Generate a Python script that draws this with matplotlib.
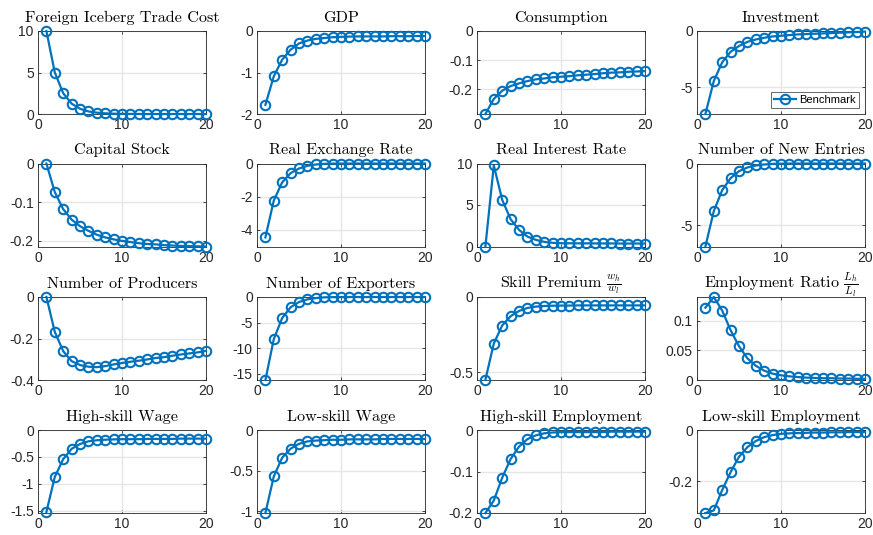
import matplotlib
matplotlib.use("Agg")
import matplotlib.pyplot as plt
from matplotlib.ticker import FuncFormatter

plt.rcParams["axes.unicode_minus"] = False
plt.rcParams["mathtext.fontset"] = "cm"

periods = list(range(1, 21))

titles = [
    "Foreign Iceberg Trade Cost", "GDP", "Consumption", "Investment",
    "Capital Stock", "Real Exchange Rate", "Real Interest Rate", "Number of New Entries",
    "Number of Producers", "Number of Exporters", r"Skill Premium $\frac{w_h}{w_l}$",
    r"Employment Ratio $\frac{L_h}{L_l}$",
    "High-skill Wage", "Low-skill Wage", "High-skill Employment", "Low-skill Employment",
]

trade_cost = [10.0, 5.0, 2.5, 1.25, 0.63, 0.31, 0.16, 0.08, 0.04, 0.02,
              0.01, 0.005, 0.0, 0.0, 0.0, 0.0, 0.0, 0.0, 0.0, 0.0]
gdp = [-1.78, -1.09, -0.69, -0.45, -0.30, -0.23, -0.19, -0.17, -0.15, -0.14,
       -0.135, -0.13, -0.13, -0.13, -0.13, -0.125, -0.125, -0.125, -0.12, -0.12]
consumption = [-0.285, -0.233, -0.205, -0.189, -0.180, -0.172, -0.166, -0.163, -0.159, -0.157,
               -0.155, -0.152, -0.150, -0.148, -0.145, -0.143, -0.142, -0.140, -0.139, -0.1375]
investment = [-7.35, -4.43, -2.77, -1.84, -1.33, -0.96, -0.75, -0.60, -0.48, -0.42,
              -0.36, -0.30, -0.27, -0.24, -0.21, -0.18, -0.15, -0.12, -0.09, -0.05]
capital = [0.0, -0.074, -0.118, -0.145, -0.162, -0.174, -0.184, -0.191, -0.196, -0.200,
           -0.203, -0.206, -0.208, -0.209, -0.211, -0.212, -0.213, -0.2135, -0.214, -0.2145]
rer = [-4.45, -2.23, -1.13, -0.58, -0.30, -0.14, -0.06, -0.02, -0.005, 0.0,
       0.0, 0.0, 0.0, 0.0, 0.0, 0.0, 0.0, 0.0, 0.0, 0.0]
real_rate = [0.0, 9.76, 5.62, 3.29, 2.0, 1.2, 0.80, 0.56, 0.44, 0.40,
             0.39, 0.38, 0.38, 0.37, 0.37, 0.37, 0.36, 0.36, 0.36, 0.36]
new_entries = [-6.7, -3.84, -2.15, -1.18, -0.62, -0.32, -0.16, -0.08, -0.03, -0.01,
               0.0, 0.0, 0.0, 0.0, 0.0, 0.0, 0.0, 0.0, 0.0, 0.0]
producers = [0.0, -0.168, -0.261, -0.309, -0.328, -0.336, -0.338, -0.333, -0.325, -0.318,
             -0.312, -0.307, -0.301, -0.294, -0.290, -0.283, -0.277, -0.272, -0.267, -0.259]
exporters = [-16.2, -8.2, -4.1, -2.0, -0.98, -0.46, -0.2, -0.07, -0.03, -0.01,
             0.0, 0.0, 0.0, 0.0, 0.0, 0.0, 0.0, 0.0, 0.0, 0.0]
skill_premium = [-0.551, -0.310, -0.190, -0.128, -0.093, -0.073, -0.064, -0.060, -0.058, -0.057,
                 -0.057, -0.056, -0.056, -0.056, -0.056, -0.056, -0.056, -0.056, -0.056, -0.056]
emp_ratio = [0.122, 0.140, 0.117, 0.084, 0.057, 0.0365, 0.024, 0.0157, 0.0107, 0.0079,
             0.0062, 0.005, 0.004, 0.0035, 0.003, 0.003, 0.0025, 0.0025, 0.002, 0.002]
high_wage = [-1.52, -0.87, -0.54, -0.35, -0.26, -0.21, -0.19, -0.18, -0.175, -0.17,
             -0.17, -0.17, -0.165, -0.165, -0.165, -0.165, -0.16, -0.16, -0.16, -0.16]
low_wage = [-1.02, -0.57, -0.34, -0.23, -0.17, -0.14, -0.13, -0.125, -0.12, -0.12,
            -0.115, -0.115, -0.115, -0.115, -0.11, -0.11, -0.11, -0.11, -0.11, -0.11]
high_emp = [-0.20, -0.17, -0.115, -0.07, -0.04, -0.022, -0.013, -0.008, -0.006, -0.005,
            -0.005, -0.005, -0.005, -0.005, -0.005, -0.004, -0.004, -0.004, -0.004, -0.004]
low_emp = [-0.325, -0.315, -0.235, -0.165, -0.105, -0.067, -0.043, -0.028, -0.020, -0.015,
           -0.013, -0.012, -0.011, -0.010, -0.010, -0.009, -0.009, -0.008, -0.008, -0.008]

series = [trade_cost, gdp, consumption, investment,
          capital, rer, real_rate, new_entries,
          producers, exporters, skill_premium, emp_ratio,
          high_wage, low_wage, high_emp, low_emp]

y_limits = [(0, 10), (-2, 0), (-0.285, 0), (-7.35, 0),
            (-0.2145, 0), (-5, 0), (0, 10), (-6.7, 0),
            (-0.4, 0), (-16.2, 0), (-0.553, 0), (0, 0.14),
            (-1.54, 0), (-1.02, 0), (-0.2, 0), (-0.325, 0)]

y_ticks = [[0, 5, 10], [-2, -1, 0], [-0.2, -0.1, 0], [-5, 0],
           [-0.2, -0.1, 0], [-4, -2, 0], [0, 5, 10], [-5, 0],
           [-0.4, -0.2, 0], [-15, -10, -5, 0], [-0.5, 0], [0, 0.05, 0.1],
           [-1.5, -1, -0.5, 0], [-1, -0.5, 0], [-0.2, -0.1, 0], [-0.2, 0]]

legend_label = "Benchmark"
line_color = "#0072BD"
axis_color = "#262626"

W, H = 873, 535
fig = plt.figure(figsize=(W / 100, H / 100), dpi=100)

col_left = [38, 257, 477, 697]
col_width = 168
row_top = [31, 163.5, 297, 430]
row_height = 83

fmt = FuncFormatter(lambda v, p: "%g" % round(v, 6))

for i, (title, vals) in enumerate(zip(titles, series)):
    r, c = divmod(i, 4)
    ax = fig.add_axes([col_left[c] / W, 1 - (row_top[r] + row_height) / H,
                       col_width / W, row_height / H])
    ax.plot(periods, vals, color=line_color, lw=1.6, marker="o", ms=6.8,
            mfc="none", mew=1.5, label=legend_label, clip_on=False, zorder=3)
    ax.set_xlim(0, 20)
    ax.set_ylim(*y_limits[i])
    ax.set_xticks([0, 10, 20])
    ax.set_yticks(y_ticks[i])
    ax.yaxis.set_major_formatter(fmt)
    ax.grid(True, color="#e6e6e6", lw=1.0)
    ax.set_axisbelow(True)
    for s in ax.spines.values():
        s.set_color(axis_color)
        s.set_linewidth(0.6)
    ax.tick_params(direction="in", length=2.5, width=0.6, colors=axis_color,
                   labelsize=10, pad=3, top=True, right=True)
    for lbl in ax.get_xticklabels() + ax.get_yticklabels():
        lbl.set_family("Liberation Sans")
    ax.set_title(title, fontsize=11.6, family="cmr10", pad=6.5, color="black")
    if i == 3:
        leg = ax.legend(loc="lower right", prop={"family": "Liberation Sans", "size": 8},
                        frameon=True, fancybox=False, handlelength=2.0,
                        handletextpad=0.3, borderpad=0.3, borderaxespad=0.5)
        leg.get_frame().set_edgecolor(axis_color)
        leg.get_frame().set_linewidth(0.6)

fig.savefig("out.png", dpi=100)
